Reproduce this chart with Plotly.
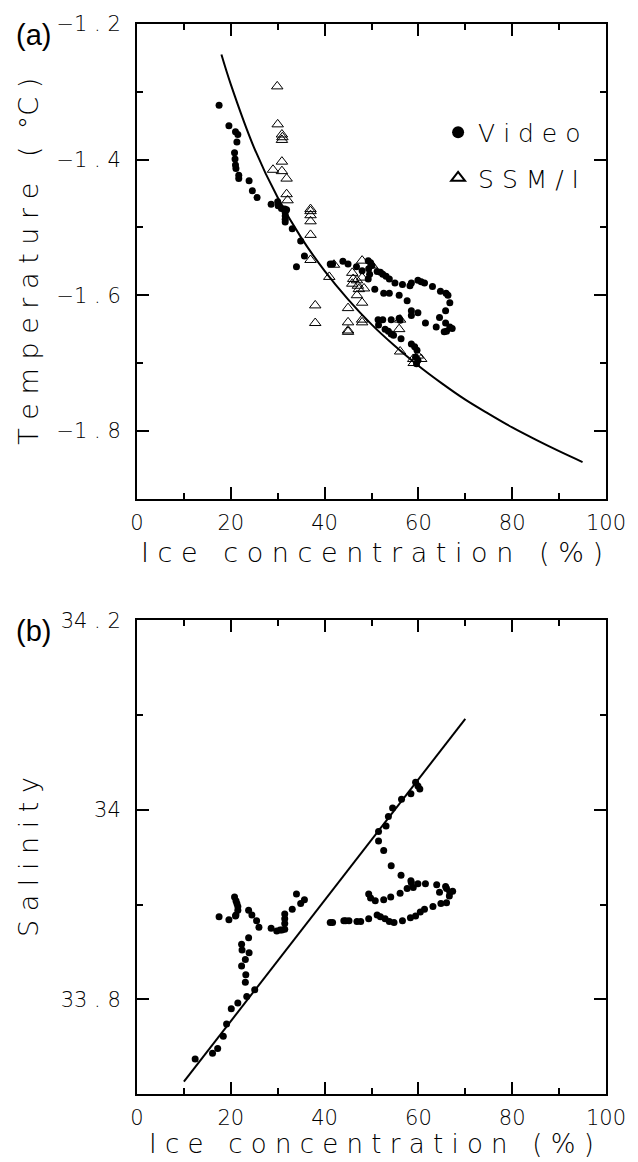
import plotly.graph_objects as go

# ---------------- data ----------------
# Panel (a): Temperature vs ice concentration
video_ice_a = [17.5, 19.6, 21.0, 21.5, 21.3, 20.8, 20.9, 21.0, 21.1, 21.7, 21.7, 23.9, 24.6, 25.6,
               28.6, 30.0, 30.1, 30.8, 31.5, 31.9, 31.6, 31.6, 31.6, 31.6, 33.1, 34.9, 35.7, 34.0,
               41.2, 41.7, 43.9, 45.0, 46.8, 48.0, 49.3, 49.8, 50.1, 49.4, 49.6, 49.3, 51.2, 51.9,
               52.4, 53.1, 53.8, 55.0, 56.6, 58.2, 58.5, 59.9, 60.6, 61.3, 63.0, 64.7, 65.9, 66.3,
               66.7, 65.8, 64.5, 65.8, 66.7, 67.2, 66.0, 65.5, 63.8, 61.5, 59.9, 58.5, 58.5, 57.6,
               55.9, 53.8, 52.6, 50.7, 51.4, 52.4, 54.2, 55.9, 56.1, 51.5, 52.9, 53.6, 54.2, 54.7,
               56.3, 58.5, 59.2, 59.7, 59.4, 59.9, 59.6]
video_temp = [-1.320, -1.350, -1.359, -1.363, -1.374, -1.390, -1.399, -1.408, -1.413, -1.423, -1.428,
              -1.431, -1.446, -1.456, -1.466, -1.462, -1.468, -1.472, -1.473, -1.474, -1.478, -1.483,
              -1.488, -1.492, -1.502, -1.520, -1.542, -1.558, -1.554, -1.554, -1.550, -1.554, -1.558,
              -1.564, -1.549, -1.552, -1.556, -1.561, -1.569, -1.576, -1.565, -1.566, -1.569, -1.572,
              -1.576, -1.582, -1.584, -1.586, -1.582, -1.578, -1.580, -1.582, -1.587, -1.594, -1.597,
              -1.600, -1.611, -1.623, -1.633, -1.641, -1.647, -1.649, -1.653, -1.654, -1.647, -1.641,
              -1.626, -1.623, -1.630, -1.608, -1.600, -1.597, -1.597, -1.591, -1.636, -1.636, -1.636,
              -1.634, -1.637, -1.644, -1.650, -1.653, -1.657, -1.659, -1.664, -1.672, -1.676, -1.681,
              -1.691, -1.696, -1.701]

ssmi_ice = [29.9, 30.0, 30.9, 31.0, 30.9, 30.9, 29.0, 30.9, 31.9, 31.9, 32.1, 37.0, 37.0, 37.0,
            37.0, 37.0, 37.0, 41.0, 42.0, 38.0, 38.0, 45.0, 45.0, 45.0, 45.0, 45.9, 46.1, 45.9,
            46.9, 47.1, 47.3, 48.0, 48.0, 48.4, 46.9, 48.0, 48.0, 48.0, 50.1, 56.1, 55.9, 56.1,
            58.9, 59.0, 60.6, 59.9]
ssmi_temp = [-1.292, -1.348, -1.363, -1.367, -1.371, -1.403, -1.415, -1.417, -1.428, -1.451, -1.460,
             -1.473, -1.476, -1.482, -1.491, -1.511, -1.548, -1.573, -1.555, -1.615, -1.641, -1.619,
             -1.640, -1.652, -1.654, -1.567, -1.576, -1.583, -1.578, -1.586, -1.591, -1.549, -1.574,
             -1.590, -1.600, -1.611, -1.636, -1.640, -1.556, -1.636, -1.650, -1.683, -1.694, -1.700,
             -1.694, -1.689]

curve_ice = [18, 20, 25, 30, 35, 40, 45, 50, 55, 60, 65, 70, 75, 80, 85, 90, 95]
curve_temp = [-1.245, -1.289, -1.383, -1.456, -1.515, -1.564, -1.606, -1.643, -1.675, -1.704,
              -1.730, -1.754, -1.775, -1.795, -1.813, -1.830, -1.846]

# Panel (b): Salinity vs ice concentration
video_ice_b = [17.5, 19.6, 21.0, 21.1, 21.5, 21.5, 21.3, 21.1, 20.8, 23.8, 24.5, 25.5, 26.0, 28.6,
               29.8, 30.5, 30.9, 31.5, 31.5, 31.5, 31.5, 33.1, 34.9, 35.7, 34.0, 23.8, 22.3, 22.4,
               23.9, 23.1, 22.3, 23.2, 23.1, 25.1, 23.4, 21.5, 20.1, 19.1, 18.4, 17.2, 16.1, 12.4,
               41.2, 41.7, 44.1, 44.5, 45.2, 46.9, 47.7, 49.4, 51.2, 51.9, 52.9, 53.8, 54.8, 56.6,
               58.3, 59.4, 60.4, 61.3, 63.1, 64.8, 66.0, 66.6, 67.3, 66.7, 66.0, 65.8, 64.5, 63.9,
               61.5, 59.9, 58.5, 58.4, 58.9, 57.6, 56.1, 54.1, 52.6, 50.8, 49.8, 49.4, 56.3, 54.2,
               52.6, 51.5, 51.5, 53.1, 53.6, 54.5, 56.4, 58.4, 59.4, 59.9, 60.3]
video_sal = [33.887, 33.884, 33.888, 33.889, 33.894, 33.898, 33.901, 33.904, 33.908, 33.894, 33.889,
             33.883, 33.876, 33.875, 33.872, 33.873, 33.873, 33.874, 33.880, 33.885, 33.890, 33.895,
             33.901, 33.905, 33.911, 33.865, 33.858, 33.852, 33.849, 33.842, 33.835, 33.826, 33.818,
             33.810, 33.803, 33.796, 33.790, 33.774, 33.761, 33.748, 33.743, 33.737, 33.881, 33.881,
             33.883, 33.883, 33.883, 33.882, 33.882, 33.885, 33.889, 33.887, 33.885, 33.882, 33.881,
             33.883, 33.886, 33.888, 33.892, 33.895, 33.898, 33.901, 33.902, 33.909, 33.914, 33.913,
             33.917, 33.919, 33.913, 33.921, 33.922, 33.922, 33.923, 33.925, 33.918, 33.917, 33.912,
             33.908, 33.905, 33.904, 33.907, 33.911, 33.931, 33.941, 33.957, 33.967, 33.977, 33.983,
             33.993, 34.002, 34.011, 34.017, 34.029, 34.025, 34.022]

line_ice = [10, 70]
line_sal = [33.713, 34.096]

# ticks
x_major = [0, 20, 40, 60, 80, 100]
x_minor = [10, 30, 50, 70, 90]
ya_major = [-1.2, -1.4, -1.6, -1.8]
ya_text = ["\u22121 . 2", "\u22121 . 4", "\u22121 . 6", "\u22121 . 8"]
ya_minor = [-1.3, -1.5, -1.7]
yb_major = [34.2, 34.0, 33.8]
yb_text = ["34 . 2", "34", "33 . 8"]
yb_minor = [34.1, 33.9]

THIN = "DejaVu Sans ExtraLight, DejaVu Sans, sans-serif"

fig = go.Figure()

fig.add_trace(go.Scatter(x=curve_ice, y=curve_temp, mode="lines", line=dict(color="black", width=2, shape="spline"),
                         showlegend=False, xaxis="x", yaxis="y", hoverinfo="skip"))
fig.add_trace(go.Scatter(x=video_ice_a, y=video_temp, mode="markers", name="V i d e o", legendgroup="v",
                         marker=dict(symbol="circle", size=7, color="black", line=dict(width=0)),
                         xaxis="x", yaxis="y"))
fig.add_trace(go.Scatter(x=ssmi_ice, y=ssmi_temp, mode="markers", name="S S M / I", legendgroup="s",
                         marker=dict(symbol="triangle-up-open", size=10, color="black", line=dict(width=1)),
                         xaxis="x", yaxis="y"))

fig.add_trace(go.Scatter(x=line_ice, y=line_sal, mode="lines", line=dict(color="black", width=2),
                         showlegend=False, xaxis="x2", yaxis="y2", hoverinfo="skip"))
fig.add_trace(go.Scatter(x=video_ice_b, y=video_sal, mode="markers", showlegend=False,
                         marker=dict(symbol="circle", size=7, color="black", line=dict(width=0)),
                         xaxis="x2", yaxis="y2"))

axis_common = dict(showline=True, linewidth=2, linecolor="black", mirror="ticks", ticks="inside",
                   ticklen=12, tickwidth=2, tickcolor="black", showgrid=False, zeroline=False,
                   tickfont=dict(family=THIN, size=21, color="black", weight=200))

top_dom = [0.5564, 1.0]
bot_dom = [0.0, 0.4427]

fig.update_layout(
    width=638, height=1162,
    margin=dict(l=137, r=26, t=21, b=68),
    paper_bgcolor="white", plot_bgcolor="white",
    xaxis=dict(domain=[0, 1], range=[0, 100], anchor="y", tickmode="array", tickvals=x_major,
               minor=dict(tickvals=x_minor, ticklen=6, tickwidth=2, tickcolor="black", ticks="inside"),
               ticklabelstandoff=4, **axis_common),
    yaxis=dict(domain=top_dom, range=[-1.9, -1.2], anchor="x", tickmode="array", tickvals=ya_major,
               ticktext=ya_text,
               minor=dict(tickvals=ya_minor, ticklen=6, tickwidth=2, tickcolor="black", ticks="inside"),
               ticklabelstandoff=10, **axis_common),
    xaxis2=dict(domain=[0, 1], range=[0, 100], anchor="y2", tickmode="array", tickvals=x_major,
                minor=dict(tickvals=x_minor, ticklen=6, tickwidth=2, tickcolor="black", ticks="inside"),
                ticklabelstandoff=4, **axis_common),
    yaxis2=dict(domain=bot_dom, range=[33.7, 34.2], anchor="x2", tickmode="array", tickvals=yb_major,
                ticktext=yb_text,
                minor=dict(tickvals=yb_minor, ticklen=6, tickwidth=2, tickcolor="black", ticks="inside"),
                ticklabelstandoff=10, **axis_common),
    legend=dict(x=0.642, y=0.92, xanchor="left", yanchor="top", bgcolor="rgba(0,0,0,0)",
                font=dict(family=THIN, size=25, color="black", weight=200), tracegroupgap=10,
                itemsizing="constant"),
)

title_font = dict(family=THIN, size=27, color="black", weight=200)
annos = [
    dict(text="I c e   c o n c e n t r a t i o n   ( % )", xref="paper", yref="paper",
         x=0.5, y=(1094 - 551) / 1073, xanchor="center", yanchor="middle", showarrow=False, font=title_font),
    dict(text="I c e   c o n c e n t r a t i o n   ( % )", xref="paper", yref="paper",
         x=0.5, y=(1094 - 1144) / 1073, xanchor="center", yanchor="middle", showarrow=False,
         font=dict(family=THIN, size=26, color="black", weight=200)),
    dict(text="T e m p e r a t u r e   (  \u00b0C )", xref="paper", yref="paper", textangle=-90,
         x=(27 - 137) / 475, y=(1094 - 259) / 1073, xanchor="center", yanchor="middle", showarrow=False,
         font=title_font),
    dict(text="S a l i n i t y", xref="paper", yref="paper", textangle=-90,
         x=(27 - 137) / 475, y=(1094 - 856) / 1073, xanchor="center", yanchor="middle", showarrow=False,
         font=title_font),
    dict(text="(a)", xref="paper", yref="paper", x=(32 - 137) / 475, y=(1094 - 32) / 1073,
         xanchor="center", yanchor="middle", showarrow=False,
         font=dict(family="Liberation Sans, Arial, sans-serif", size=29, color="black")),
    dict(text="(b)", xref="paper", yref="paper", x=(32 - 137) / 475, y=(1094 - 630) / 1073,
         xanchor="center", yanchor="middle", showarrow=False,
         font=dict(family="Liberation Sans, Arial, sans-serif", size=29, color="black")),
]
fig.update_layout(annotations=annos)

fig.write_html("out.html")
